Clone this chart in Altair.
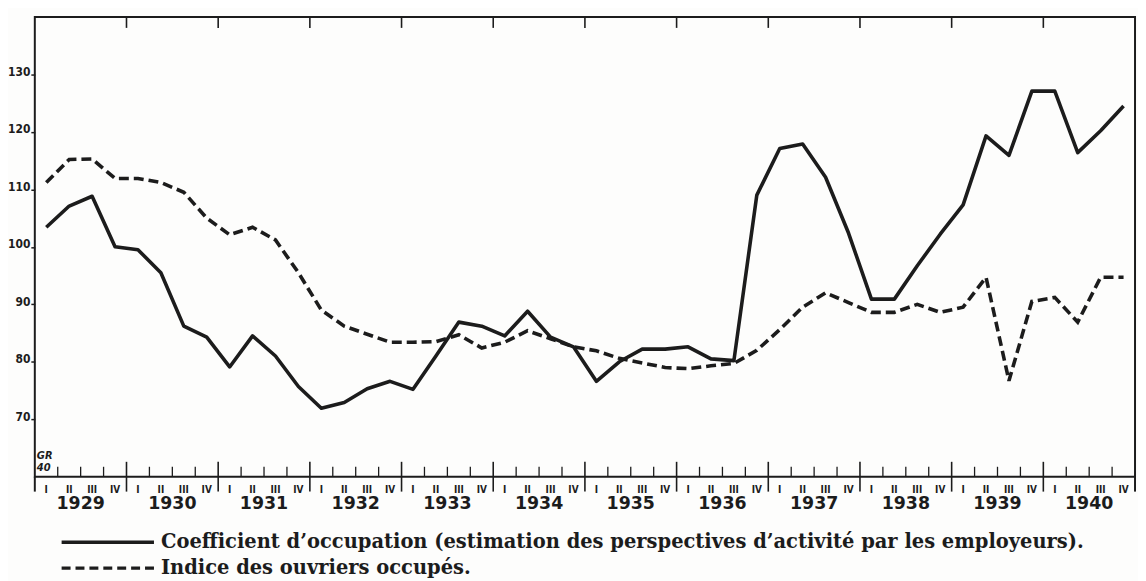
import altair as alt
import pandas as pd

years = [1929, 1930, 1931, 1932, 1933, 1934, 1935, 1936, 1937, 1938, 1939, 1940]
quarter_labels = ["I", "II", "III", "IV"]
y_ticks = [70, 80, 90, 100, 110, 120, 130]

# Coefficient d'occupation (solid), quarterly 1929 I .. 1940 IV
coefficient = [103.4, 107.1, 108.8, 100.0,
               99.5, 95.5, 86.2, 84.3,
               79.1, 84.5, 81.0, 75.7,
               71.9, 72.9, 75.3, 76.6,
               75.2, 81.0, 86.9, 86.2,
               84.5, 88.8, 84.3, 82.6,
               76.6, 80.0, 82.2, 82.2,
               82.6, 80.5, 80.2, 109.0,
               117.1, 117.9, 112.1, 102.4,
               90.9, 90.9, 96.7, 102.2,
               107.3, 119.3, 115.9, 127.1,
               127.1, 116.4, 120.2, 124.5]

# Indice des ouvriers occupés (dashed)
indice = [111.2, 115.2, 115.3, 111.9,
          111.9, 111.2, 109.5, 105.0,
          102.1, 103.4, 101.2, 95.5,
          89.0, 86.2, 84.8, 83.4,
          83.4, 83.5, 84.7, 82.4,
          83.4, 85.4, 84.0, 82.6,
          81.9, 80.6, 79.8, 79.0,
          78.8, 79.3, 79.7, 82.0,
          85.6, 89.5, 92.0, 90.3,
          88.6, 88.6, 90.0, 88.6,
          89.5, 94.7, 76.7, 90.5,
          91.2, 86.9, 94.7, 94.7]

legend_labels = [
    "Coefficient d\u2019occupation (estimation des perspectives d\u2019activit\u00e9 par les employeurs).",
    "Indice des ouvriers occup\u00e9s.",
]
signature = ["GR", "40"]

n = len(coefficient)
df = pd.DataFrame({
    "q": [i + 0.5 for i in range(n)],
    "coef": coefficient,
    "indice": indice,
})

xs = alt.Scale(domain=[0, n], nice=False, zero=False)
ys = alt.Scale(domain=[60, 140], nice=False, zero=False)

INK = "#1c1c1c"
SANS = "DejaVu Sans"
COND = "DejaVu Sans Condensed, Liberation Sans Narrow, DejaVu Sans"
SERIF = "DejaVu Serif, Liberation Serif, serif"

y_axis = alt.Axis(values=y_ticks, title=None, grid=False, domain=False,
                  tickSize=4, tickWidth=1.5, tickColor=INK,
                  labelFont=COND, labelFontSize=12, labelFontWeight="bold",
                  labelColor=INK, labelPadding=1, labelBaseline="alphabetic",
                  labelOffset=1)

solid = alt.Chart(df).mark_line(color=INK, strokeWidth=3.6, strokeJoin="round").encode(
    x=alt.X("q:Q", scale=xs, axis=None),
    y=alt.Y("coef:Q", scale=ys, axis=y_axis),
)
dashed = alt.Chart(df).mark_line(color=INK, strokeWidth=3.6, strokeDash=[10, 5]).encode(
    x=alt.X("q:Q", scale=xs, axis=None),
    y=alt.Y("indice:Q", scale=ys, axis=y_axis),
)

# tick marks along the time axis
minor_df = pd.DataFrame({"b": [b for b in range(1, n) if b % 4 != 0]})
year_df = pd.DataFrame({"b": [b for b in range(4, n, 4)]})
edge_df = pd.DataFrame({"b": [0, n]})

minor_ticks = alt.Chart(minor_df).mark_rule(color=INK, strokeWidth=1.3).encode(
    x=alt.X("b:Q", scale=xs, axis=None), y=alt.value(453), y2=alt.value(463))
year_ticks = alt.Chart(year_df).mark_rule(color=INK, strokeWidth=1.6).encode(
    x=alt.X("b:Q", scale=xs, axis=None), y=alt.value(448), y2=alt.value(478))
top_ticks = alt.Chart(year_df).mark_rule(color=INK, strokeWidth=1.6).encode(
    x=alt.X("b:Q", scale=xs, axis=None), y=alt.value(0), y2=alt.value(11))
edge_ticks = alt.Chart(edge_df).mark_rule(color=INK, strokeWidth=2).encode(
    x=alt.X("b:Q", scale=xs, axis=None), y=alt.value(463), y2=alt.value(478))

ql_df = pd.DataFrame({"q": [i + 0.5 for i in range(n)],
                      "t": [quarter_labels[i % 4] for i in range(n)]})
q_text = alt.Chart(ql_df).mark_text(font=COND, fontSize=10, fontWeight="bold",
                                    color=INK, baseline="middle").encode(
    x=alt.X("q:Q", scale=xs, axis=None), y=alt.value(476), text="t:N")

yl_df = pd.DataFrame({"m": [4 * k + 2 for k in range(len(years))],
                      "t": [str(y) for y in years]})
y_text = alt.Chart(yl_df).mark_text(font=SANS, fontSize=17.5, fontWeight="bold",
                                    color=INK, baseline="middle").encode(
    x=alt.X("m:Q", scale=xs, axis=None), y=alt.value(491), text="t:N")


def text_row(txt, x, y, **kw):
    return alt.Chart(pd.DataFrame({"t": [txt]})).mark_text(
        color=INK, align="left", baseline="middle", **kw).encode(
        x=alt.value(x), y=alt.value(y), text="t:N")


sig1 = text_row(signature[0], 2, 442, font=SANS, fontSize=10, fontStyle="italic", fontWeight="bold")
sig2 = text_row(signature[1], 2, 454, font=SANS, fontSize=10, fontStyle="italic", fontWeight="bold")

# legend
one = pd.DataFrame({"k": [0]})
leg_solid = alt.Chart(one).mark_rule(color=INK, strokeWidth=3.4).encode(
    x=alt.value(27), x2=alt.value(120), y=alt.value(529))
leg_dash = alt.Chart(one).mark_rule(color=INK, strokeWidth=3.4, strokeDash=[9, 5]).encode(
    x=alt.value(27), x2=alt.value(120), y=alt.value(555))
leg1 = text_row(legend_labels[0], 127, 529, font=SERIF, fontSize=19.6, fontWeight="bold")
leg2 = text_row(legend_labels[1], 127, 555, font=SERIF, fontSize=19.6, fontWeight="bold")

chart = alt.layer(
    minor_ticks, year_ticks, top_ticks, edge_ticks,
    dashed, solid, q_text, y_text, sig1, sig2, leg_solid, leg_dash, leg1, leg2,
).properties(
    width=1108, height=463,
    autosize=alt.AutoSizeParams(type="none"),
    padding={"left": 27, "top": 7, "right": 3, "bottom": 103},
    background="#fdfdfc",
).configure_view(stroke=INK, strokeWidth=2)

chart.save("out.html", embed_options={"renderer": "svg", "actions": False})
